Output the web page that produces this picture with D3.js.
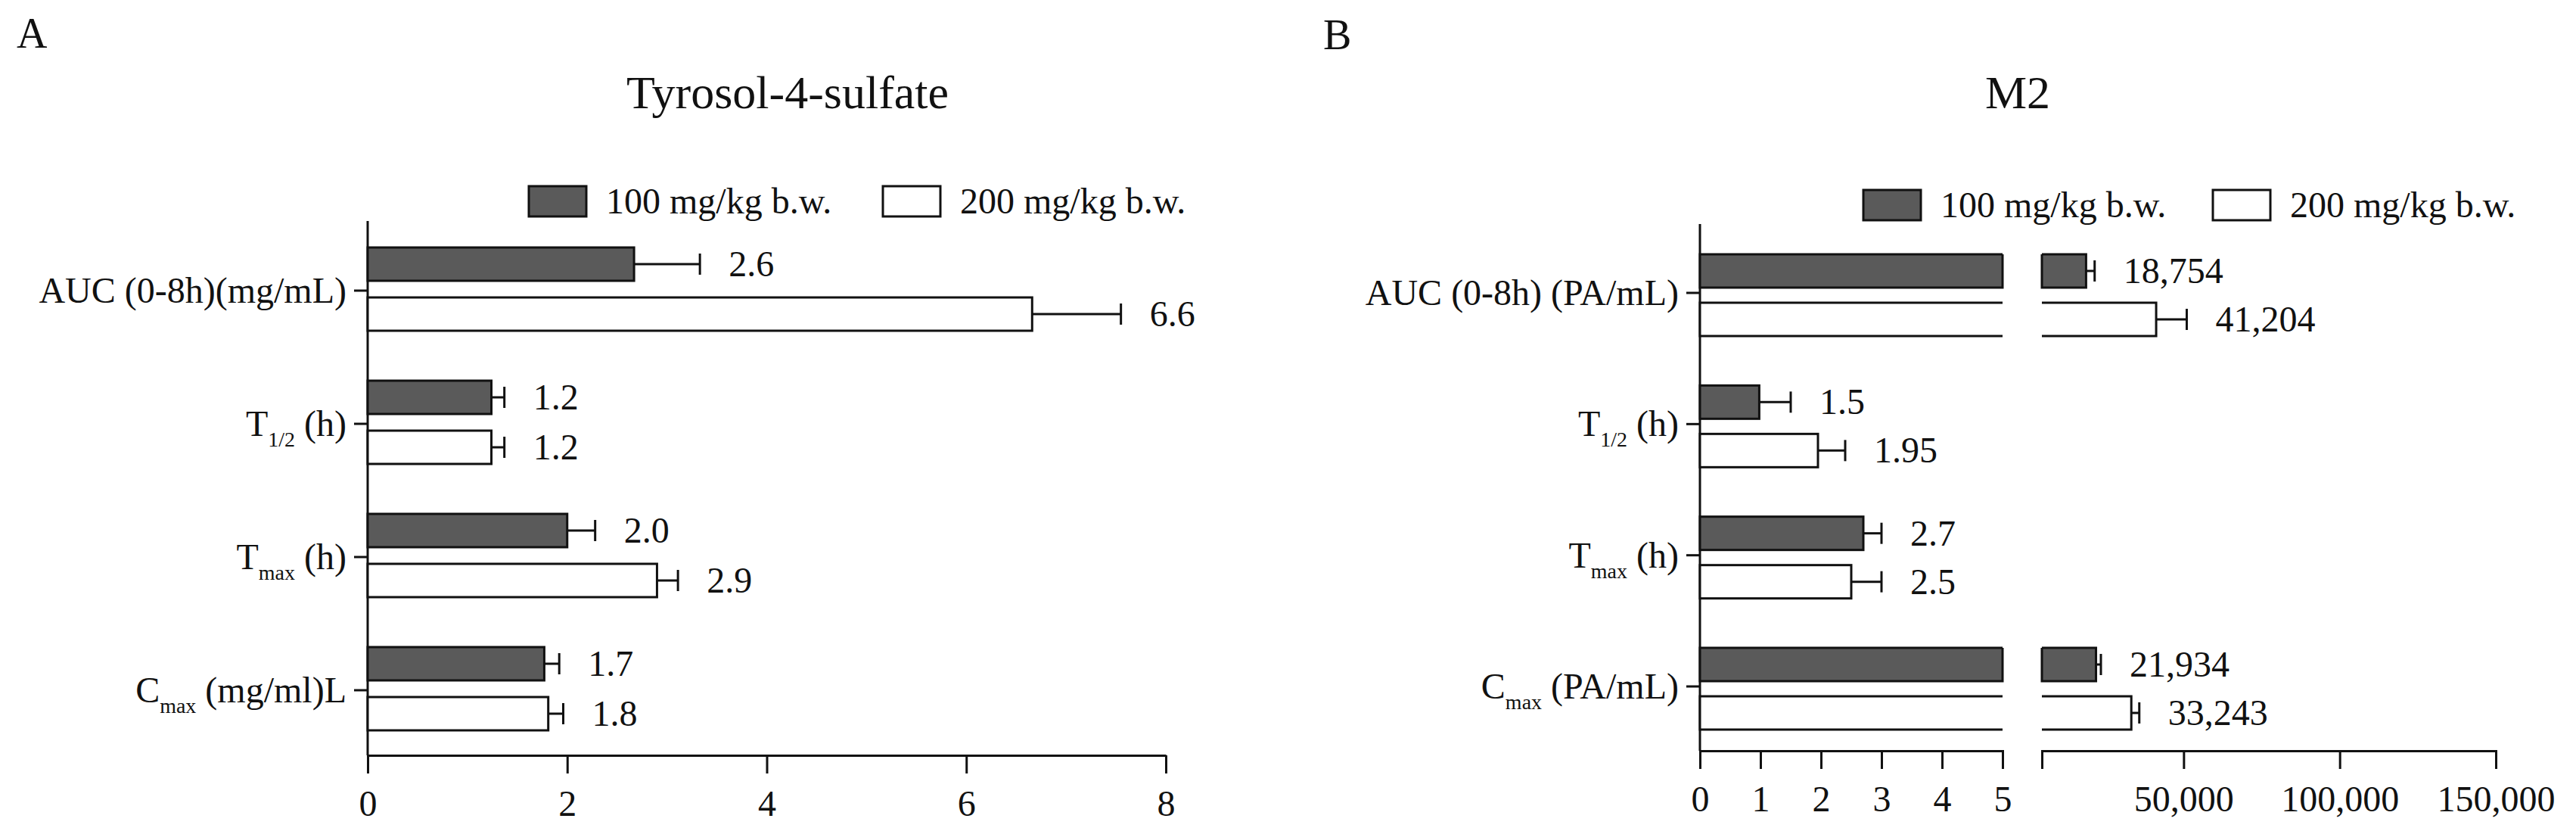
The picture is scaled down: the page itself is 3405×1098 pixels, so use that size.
<!DOCTYPE html>
<html>
<head>
<meta charset="utf-8">
<script src="https://cdn.jsdelivr.net/npm/d3@7"></script>
<style>
  body { margin: 0; background: #fff; }
  text { font-family: "Liberation Serif", "Times New Roman", serif; fill: #111; }
</style>
</head>
<body>
<svg id="chart" width="3405" height="1098"></svg>
<script>
// categories (top to bottom); label parts: [main, subscript, rest]
const categoriesA = [["AUC (0-8h)(mg/mL)", "", ""], ["T", "1/2", " (h)"], ["T", "max", " (h)"], ["C", "max", " (mg/ml)L"]];
const categoriesB = [["AUC (0-8h) (PA/mL)", "", ""], ["T", "1/2", " (h)"], ["T", "max", " (h)"], ["C", "max", " (PA/mL)"]];
const seriesNames = ["100 mg/kg b.w.", "200 mg/kg b.w."];

// panel A values
const a100 = [2.67, 1.24, 2.0, 1.77];
const a100Err = [3.33, 1.37, 2.28, 1.92];
const a200 = [6.66, 1.24, 2.9, 1.81];
const a200Err = [7.55, 1.37, 3.11, 1.96];
const a100Labels = ["2.6", "1.2", "2.0", "1.7"];
const a200Labels = ["6.6", "1.2", "2.9", "1.8"];
const ticksA = [0, 2, 4, 6, 8];

// panel B values
const b100 = [18754, 0.98, 2.7, 21934];
const b100Err = [21500, 1.5, 3.0, 23500];
const b200 = [41204, 1.95, 2.5, 33243];
const b200Err = [51000, 2.4, 3.0, 35800];
const b100Labels = ["18,754", "1.5", "2.7", "21,934"];
const b200Labels = ["41,204", "1.95", "2.5", "33,243"];
const ticksB1 = [0, 1, 2, 3, 4, 5];
const ticksB2 = [50000, 100000, 150000];

const svg = d3.select("#chart");
const dark = "#5a5a5a";
const fs = 48;

function catLabel(g, parts, x, y) {
  const t = g.append("text").attr("x", x).attr("y", y + 16).attr("text-anchor", "end").attr("font-size", fs);
  t.append("tspan").text(parts[0]);
  if (parts[1]) {
    t.append("tspan").attr("font-size", 28).attr("dy", 14).text(parts[1]);
    t.append("tspan").attr("dy", -14).text(parts[2]);
  }
}

function legend(x1, x2, y) {
  [x1, x2].forEach((x, i) => {
    svg.append("rect").attr("x", x).attr("y", y).attr("width", 76).attr("height", 40)
      .attr("fill", i === 0 ? dark : "#fff").attr("stroke", "#111").attr("stroke-width", 3);
    svg.append("text").attr("x", x + 102).attr("y", y + 36).attr("font-size", fs).text(seriesNames[i]);
  });
}

// ---------- Panel A ----------
const xA = d3.scaleLinear().domain([0, 8]).range([486, 1541]);
const yA = d3.scalePoint().domain(d3.range(4)).range([384, 912]);

svg.append("text").attr("x", 22).attr("y", 63).attr("font-size", 56).text("A");
svg.append("text").attr("x", 1041).attr("y", 143).attr("text-anchor", "middle").attr("font-size", 62).text("Tyrosol-4-sulfate");
legend(699, 1167, 246);

const gA = svg.append("g");
gA.append("g").attr("transform", "translate(0,998)")
  .call(d3.axisBottom(xA).tickValues(ticksA).tickSize(24).tickSizeOuter(0).tickPadding(22))
  .call(g => g.selectAll("text").attr("font-size", fs).attr("font-family", "Liberation Serif").attr("fill", "#111"))
  .call(g => g.selectAll("line,path").attr("stroke", "#111").attr("stroke-width", 3));
gA.append("line").attr("x1", 486).attr("x2", 486).attr("y1", 292).attr("y2", 998).attr("stroke", "#111").attr("stroke-width", 3);

function barsA(vals, errs, labels, off, fill) {
  vals.forEach((v, i) => {
    const y0 = yA(i) + off;
    gA.append("line").attr("x1", xA(v)).attr("x2", xA(errs[i])).attr("y1", y0 + 22).attr("y2", y0 + 22).attr("stroke", "#111").attr("stroke-width", 3);
    gA.append("line").attr("x1", xA(errs[i])).attr("x2", xA(errs[i])).attr("y1", y0 + 8).attr("y2", y0 + 36).attr("stroke", "#111").attr("stroke-width", 3);
    gA.append("rect").attr("x", xA(0)).attr("y", y0).attr("width", xA(v) - xA(0)).attr("height", 44)
      .attr("fill", fill).attr("stroke", "#111").attr("stroke-width", 3);
    gA.append("text").attr("x", xA(errs[i]) + 38).attr("y", y0 + 38).attr("font-size", fs).text(labels[i]);
  });
}
barsA(a100, a100Err, a100Labels, -57, dark);
barsA(a200, a200Err, a200Labels, 9, "#fff");
categoriesA.forEach((c, i) => {
  gA.append("line").attr("x1", 468).attr("x2", 486).attr("y1", yA(i)).attr("y2", yA(i)).attr("stroke", "#111").attr("stroke-width", 3);
  catLabel(gA, c, 458, yA(i));
});

// ---------- Panel B (broken axis) ----------
const xB1 = d3.scaleLinear().domain([0, 5]).range([2247, 2647]);
const xB2 = d3.scaleLinear().domain([4600, 150000]).range([2699, 3299]);
const yB = d3.scalePoint().domain(d3.range(4)).range([387, 907]);
const xB = v => v <= 5 ? xB1(v) : xB2(v);

svg.append("text").attr("x", 1749).attr("y", 65).attr("font-size", 56).text("B");
svg.append("text").attr("x", 2667).attr("y", 143).attr("text-anchor", "middle").attr("font-size", 62).text("M2");
legend(2463, 2925, 251);

const gB = svg.append("g");
[[xB1, ticksB1], [xB2, ticksB2]].forEach(([sc, tv]) => {
  gB.append("g").attr("transform", "translate(0,992)")
    .call(d3.axisBottom(sc).tickValues(tv).tickSize(24).tickSizeOuter(24).tickPadding(22).tickFormat(d3.format(",")))
    .call(g => g.selectAll("text").attr("font-size", fs).attr("font-family", "Liberation Serif").attr("fill", "#111"))
    .call(g => g.selectAll("line,path").attr("stroke", "#111").attr("stroke-width", 3).attr("fill", "none"));
});
gB.append("line").attr("x1", 2247).attr("x2", 2247).attr("y1", 296).attr("y2", 992).attr("stroke", "#111").attr("stroke-width", 3);

function barsB(vals, errs, labels, off, fill) {
  vals.forEach((v, i) => {
    const y0 = yB(i) + off;
    gB.append("line").attr("x1", xB(v)).attr("x2", xB(errs[i])).attr("y1", y0 + 22).attr("y2", y0 + 22).attr("stroke", "#111").attr("stroke-width", 3);
    gB.append("line").attr("x1", xB(errs[i])).attr("x2", xB(errs[i])).attr("y1", y0 + 8).attr("y2", y0 + 36).attr("stroke", "#111").attr("stroke-width", 3);
    if (v <= 5) {
      gB.append("rect").attr("x", xB1(0)).attr("y", y0).attr("width", xB1(v) - xB1(0)).attr("height", 44)
        .attr("fill", fill).attr("stroke", "#111").attr("stroke-width", 3);
    } else {
      [[xB1(0), xB1(5)], [xB2(4600), xB2(v)]].forEach(([a, b], k) => {
        gB.append("rect").attr("x", a).attr("y", y0).attr("width", b - a).attr("height", 44).attr("fill", fill).attr("stroke", "none");
        gB.append("path").attr("fill", "none").attr("stroke", "#111").attr("stroke-width", 3)
          .attr("d", k === 0 ? `M${b},${y0}H${a}V${y0 + 44}H${b}` + (fill === dark ? `V${y0}` : "")
                             : `M${a},${y0}H${b}V${y0 + 44}H${a}` + (fill === dark ? `V${y0}` : ""));
      });
    }
    gB.append("text").attr("x", xB(errs[i]) + 38).attr("y", y0 + 38).attr("font-size", fs).text(labels[i]);
  });
}
barsB(b100, b100Err, b100Labels, -51, dark);
barsB(b200, b200Err, b200Labels, 13, "#fff");
categoriesB.forEach((c, i) => {
  gB.append("line").attr("x1", 2229).attr("x2", 2247).attr("y1", yB(i)).attr("y2", yB(i)).attr("stroke", "#111").attr("stroke-width", 3);
  catLabel(gB, c, 2219, yB(i));
});
</script>
</body>
</html>
